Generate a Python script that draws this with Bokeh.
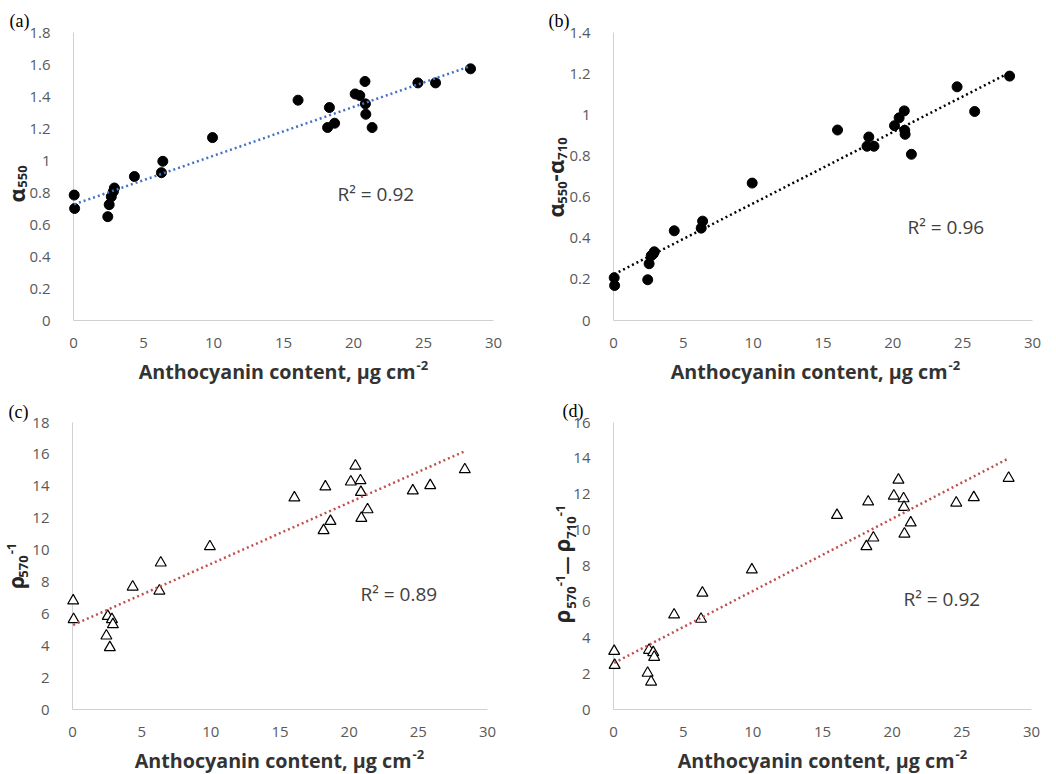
from math import pi
from bokeh.plotting import figure
from bokeh.models import Range1d, FixedTicker, CustomJSTickFormatter, Label
from bokeh.layouts import gridplot
from bokeh.embed import file_html
from bokeh.resources import INLINE

# ---------------- data ----------------
anthocyanin = [0.05, 0.08, 2.45, 2.55, 2.7, 2.85, 2.92, 4.35, 6.28, 6.38, 9.93, 16.04,
               18.28, 18.15, 18.65, 20.12, 20.45, 20.82, 20.85, 20.88, 21.33, 24.6, 25.86, 28.36]
alpha550 = [0.784, 0.700, 0.649, 0.724, 0.774, 0.807, 0.828, 0.900, 0.924, 0.995, 1.143, 1.377,
            1.331, 1.206, 1.233, 1.416, 1.406, 1.494, 1.354, 1.289, 1.206, 1.485, 1.485, 1.573]
alpha_diff = [0.208, 0.170, 0.198, 0.276, 0.315, 0.324, 0.334, 0.436, 0.449, 0.483, 0.668, 0.926,
              0.892, 0.847, 0.847, 0.947, 0.985, 1.019, 0.925, 0.905, 0.808, 1.136, 1.016, 1.188]
rho570_inv = [6.82, 5.65, 4.62, 5.85, 3.89, 5.65, 5.33, 7.69, 7.44, 9.20, 10.22, 13.28,
              13.97, 11.23, 11.81, 14.28, 15.28, 14.36, 13.63, 12.00, 12.54, 13.72, 14.05, 15.05]
rho_diff = [3.25, 2.47, 2.03, 3.31, 1.54, 3.18, 2.92, 5.28, 5.04, 6.50, 7.79, 10.83,
            11.58, 9.09, 9.57, 11.91, 12.80, 11.76, 11.28, 9.79, 10.41, 11.52, 11.82, 12.90]

# linear trend lines (value at min x, value at max x)
trend_a = [0.726, 1.590]
trend_b = [0.225, 1.205]
trend_c = [5.30, 16.20]
trend_d = [2.60, 14.00]

r2_labels = ["R\u00b2 = 0.92", "R\u00b2 = 0.96", "R\u00b2 = 0.89", "R\u00b2 = 0.92"]
panel_letters = ["(a)", "(b)", "(c)", "(d)"]

x_ticks = [0, 5, 10, 15, 20, 25, 30]
ya_ticks = [0, 0.2, 0.4, 0.6, 0.8, 1.0, 1.2, 1.4, 1.6, 1.8]
yb_ticks = [0, 0.2, 0.4, 0.6, 0.8, 1.0, 1.2, 1.4]
yc_ticks = [0, 2, 4, 6, 8, 10, 12, 14, 16, 18]
yd_ticks = [0, 2, 4, 6, 8, 10, 12, 14, 16]
x_title = "Anthocyanin content, \u03bcg cm"
x_title_sup = "-2"

FONT = "Open Sans"
TICK_COLOR = "#595959"
AXIS_COLOR = "#d0d0d0"


def make_panel(g, ys, ticks, trend, trend_color, marker, r2, letter, ylabel_pieces,
               r2_pos, letter_pos, xt_pos):
    ymax = ticks[-1]
    xs = (g["x30"] - g["x0"]) / 30.0
    ysc = (g["bottom"] - g["top"]) / float(ymax)
    x_start = -(g["x0"] - g["left"]) / xs
    x_end = 30 + (g["left"] + g["w"] - g["x30"]) / xs
    y_end = ymax + (g["top"] - g["ftop"]) / ysc
    y_start = -(g["ftop"] + g["h"] - g["bottom"]) / ysc
    p = figure(width=g["w"], height=g["h"],
               x_range=Range1d(x_start, x_end), y_range=Range1d(y_start, y_end),
               min_border_left=0, min_border_right=0, min_border_top=0,
               min_border_bottom=0, output_backend="svg", toolbar_location=None)
    p.outline_line_color = None
    p.xgrid.visible = False
    p.ygrid.visible = False

    p.xaxis.fixed_location = 0
    p.yaxis.fixed_location = 0
    p.xaxis.bounds = (0, 30)
    p.yaxis.bounds = (0, ymax)
    p.xaxis.ticker = FixedTicker(ticks=x_ticks)
    p.yaxis.ticker = FixedTicker(ticks=ticks)
    p.yaxis.formatter = CustomJSTickFormatter(code="return (Math.round(tick*10)/10).toString()")
    for ax in (p.xaxis, p.yaxis):
        ax.level = "underlay"
        ax.axis_line_color = AXIS_COLOR
        ax.axis_line_width = 1
        ax.major_tick_line_color = None
        ax.minor_tick_line_color = None
        ax.major_label_text_font = FONT
        ax.major_label_text_font_size = "15px"
        ax.major_label_text_color = TICK_COLOR
    p.xaxis.major_label_standoff = 11
    p.yaxis.major_label_standoff = 17

    if marker == "circle":
        p.scatter(anthocyanin, ys, marker="circle", size=10, color="black")
    else:
        p.scatter(anthocyanin, ys, marker="triangle", size=11, fill_color="white",
                  line_color="black", line_width=1.2)
    tx = [min(anthocyanin), max(anthocyanin)]
    p.line(tx, trend, line_color=trend_color, line_width=2.5, line_dash="2 3")

    def lab(px, py, text, **kw):
        p.add_layout(Label(x=px - g["left"], y=g["ftop"] + g["h"] - py,
                           x_units="screen", y_units="screen", text=text, **kw))

    # R^2
    lab(r2_pos[0], r2_pos[1], r2, text_font=FONT, text_font_size="19px",
        text_color="#404040", text_align="left", text_baseline="middle")
    # panel letter
    lab(letter_pos[0], letter_pos[1], letter, text_font="Liberation Serif",
        text_font_size="18px", text_color="black", text_align="left",
        text_baseline="middle")
    # x title
    lab(xt_pos[0], xt_pos[1], x_title, text_font=FONT, text_font_size="19.7px",
        text_font_style="bold", text_color="#333333", text_align="right",
        text_baseline="middle")
    lab(xt_pos[0] + 1, xt_pos[2], x_title_sup, text_font=FONT, text_font_size="13px",
        text_font_style="bold", text_color="#333333", text_align="left",
        text_baseline="middle")
    # y title pieces (rotated)
    for (px, py, text, size) in ylabel_pieces:
        lab(px, py, text, angle=pi / 2, text_font=FONT, text_font_size=size,
            text_font_style="bold", text_color="#262626", text_align="center",
            text_baseline="middle")
    return p


geom_a = dict(left=0, ftop=0, w=528, h=391, x0=73, x30=493, top=32, bottom=320)
geom_b = dict(left=528, ftop=0, w=528, h=391, x0=613, x30=1032, top=32, bottom=320)
geom_c = dict(left=0, ftop=391, w=528, h=383, x0=72, x30=487, top=422, bottom=709)
geom_d = dict(left=528, ftop=391, w=528, h=383, x0=613, x30=1031, top=422, bottom=709)

BIG, SMALL = "22px", "13px"
pa = make_panel(geom_a, alpha550, ya_ticks, trend_a, "#4472c4", "circle", r2_labels[0],
                panel_letters[0],
                [(15, 195, "\u03b1", BIG), (22, 176, "550", SMALL)],
                (337, 193), (9, 20), (415, 371, 365))
pb = make_panel(geom_b, alpha_diff, yb_ticks, trend_b, "#000000", "circle", r2_labels[1],
                panel_letters[1],
                [(554, 210, "\u03b1", BIG), (562, 192, "550", SMALL), (554, 177.5, "-", BIG),
                 (554, 166.5, "\u03b1", BIG), (562, 148, "710", SMALL)],
                (907, 226), (548, 20), (947, 371, 365))
pc = make_panel(geom_c, rho570_inv, yc_ticks, trend_c, "#c0504d", "triangle", r2_labels[2],
                panel_letters[2],
                [(15, 582, "\u03c1", "21px"), (23, 566, "570", SMALL), (11, 548, "-1", SMALL)],
                (360, 593), (8, 411), (411, 760, 754))
pd_ = make_panel(geom_d, rho_diff, yd_ticks, trend_d, "#c0504d", "triangle", r2_labels[3],
                 panel_letters[3],
                 [(560, 616, "\u03c1", BIG), (571, 597, "570", SMALL), (560, 580, "-1", SMALL),
                  (565, 565, "\u2014", "18px"), (560, 545, "\u03c1", BIG),
                  (571, 527, "710", SMALL), (560, 510, "-1", SMALL)],
                 (903, 598), (562, 410), (954, 760, 754))

grid = gridplot([[pa, pb], [pc, pd_]], toolbar_location=None)
open("out.html", "w").write(file_html(grid, INLINE))
